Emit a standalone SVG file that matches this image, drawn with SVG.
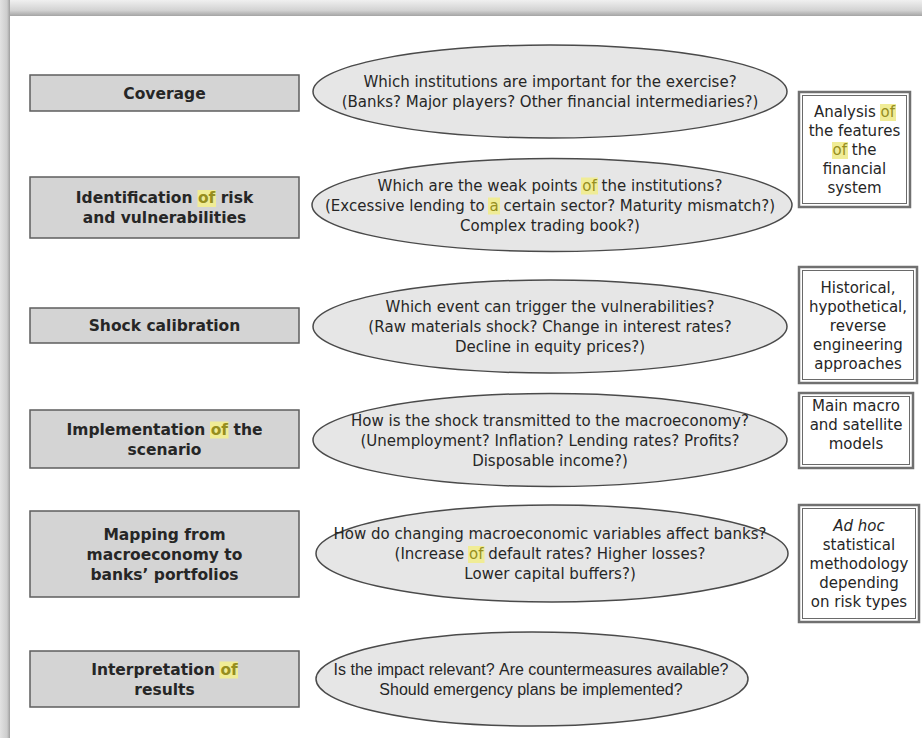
<svg xmlns="http://www.w3.org/2000/svg" width="922" height="738" viewBox="0 0 922 738">
<defs>
<linearGradient id="gt" x1="0" y1="0" x2="0" y2="1">
<stop offset="0" stop-color="#f0f0f0"/><stop offset="0.65" stop-color="#d2d2d2"/><stop offset="1" stop-color="#a4a4a4"/>
</linearGradient>
<linearGradient id="gl" x1="0" y1="0" x2="1" y2="0">
<stop offset="0" stop-color="#e2e2e2"/><stop offset="0.7" stop-color="#cdcdcd"/><stop offset="1" stop-color="#9e9e9e"/>
</linearGradient>
</defs>
<style>
text{font-family:"DejaVu Sans","Liberation Sans",sans-serif;font-kerning:none;fill:#262626}
.lb{fill:#d4d4d4;stroke:#5e5e5e;stroke-width:1.5}
.lt{font-size:15.5px;font-weight:bold;text-anchor:middle}
.el{fill:#e6e6e6;stroke:#4a4a4a;stroke-width:1.5}
.et{font-size:15px;text-anchor:middle}
.en{font-family:"Liberation Sans",Arial,sans-serif;font-size:16px;text-anchor:middle}
.rbo{fill:#fff;stroke:#707070;stroke-width:2.5}
.rbi{fill:none;stroke:#6a6a6a;stroke-width:1}
.rt{font-size:15px;text-anchor:middle}
.hl{fill:#f0ec96}
.hw{fill:#968e1e}
</style>
<rect width="922" height="738" fill="#ffffff"/>
<rect x="0" y="0" width="922" height="16" fill="url(#gt)"/>
<rect x="0" y="0" width="10" height="738" fill="url(#gl)"/>

<g id="coverage">
<rect class="lb" x="30" y="75" width="269" height="36"/>
<text class="lt" x="164.5" y="98.5">Coverage</text>
</g>
<g id="identification">
<rect class="lb" x="30" y="177" width="269" height="61"/>
<rect class="hl" x="197.5" y="190" width="18.5" height="17"/>
<text class="lt" x="164.5" y="203">Identification <tspan class="hw">of</tspan> risk</text>
<text class="lt" x="164.5" y="223">and vulnerabilities</text>
</g>
<g id="shock">
<rect class="lb" x="30" y="308" width="269" height="35"/>
<text class="lt" x="164.5" y="331">Shock calibration</text>
</g>
<g id="implementation">
<rect class="lb" x="30" y="410" width="269" height="58"/>
<rect class="hl" x="210" y="421.5" width="18.5" height="17"/>
<text class="lt" x="164.5" y="434.5">Implementation <tspan class="hw">of</tspan> the</text>
<text class="lt" x="164.5" y="454.5">scenario</text>
</g>
<g id="mapping">
<rect class="lb" x="30" y="511" width="269" height="86"/>
<text class="lt" x="164.5" y="539.5">Mapping from</text>
<text class="lt" x="164.5" y="559.5">macroeconomy to</text>
<text class="lt" x="164.5" y="579.5">banks’ portfolios</text>
</g>
<g id="interpretation">
<rect class="lb" x="30" y="651" width="269" height="56"/>
<rect class="hl" x="219.5" y="661.5" width="18.5" height="17"/>
<text class="lt" x="164.5" y="674.5">Interpretation <tspan class="hw">of</tspan></text>
<text class="lt" x="164.5" y="694.5">results</text>
</g>

<g id="q-coverage">
<ellipse class="el" cx="550" cy="91.5" rx="237" ry="46.5"/>
<text class="et" x="550" y="87">Which institutions are important for the exercise?</text>
<text class="et" x="550" y="107">(Banks? Major players? Other financial intermediaries?)</text>
</g>
<g id="q-identification">
<ellipse class="el" cx="552" cy="205" rx="240" ry="46.5"/>
<rect class="hl" x="581" y="177.5" width="17" height="17"/>
<rect class="hl" x="488" y="197.5" width="12" height="17"/>
<text class="et" x="550" y="190.5">Which are the weak points <tspan class="hw">of</tspan> the institutions?</text>
<text class="et" x="550" y="210.5">(Excessive lending to <tspan class="hw">a</tspan> certain sector? Maturity mismatch?)</text>
<text class="et" x="550" y="230.5">Complex trading book?)</text>
</g>
<g id="q-shock">
<ellipse class="el" cx="550" cy="326.5" rx="237" ry="46.5"/>
<text class="et" x="550" y="312">Which event can trigger the vulnerabilities?</text>
<text class="et" x="550" y="332">(Raw materials shock? Change in interest rates?</text>
<text class="et" x="550" y="352">Decline in equity prices?)</text>
</g>
<g id="q-implementation">
<ellipse class="el" cx="550" cy="440" rx="237" ry="46.5"/>
<text class="et" x="550" y="425.5">How is the shock transmitted to the macroeconomy?</text>
<text class="et" x="550" y="445.5">(Unemployment? Inflation? Lending rates? Profits?</text>
<text class="et" x="550" y="465.5">Disposable income?)</text>
</g>
<g id="q-mapping">
<ellipse class="el" cx="552" cy="553.5" rx="236" ry="48.5"/>
<rect class="hl" x="468" y="546" width="16.5" height="17"/>
<text class="et" x="550" y="539">How do changing macroeconomic variables affect banks?</text>
<text class="et" x="550" y="559">(Increase <tspan class="hw">of</tspan> default rates? Higher losses?</text>
<text class="et" x="550" y="579">Lower capital buffers?)</text>
</g>
<g id="q-interpretation">
<ellipse class="el" cx="532" cy="679" rx="216" ry="47"/>
<text class="en" x="531" y="674.5">Is the impact relevant? Are countermeasures available?</text>
<text class="en" x="531" y="694.5">Should emergency plans be implemented?</text>
</g>

<g id="note-features">
<rect class="rbo" x="799" y="92" width="111" height="115"/>
<rect class="rbi" x="802.5" y="95.5" width="104" height="108"/>
<rect class="hl" x="880" y="104" width="16" height="17"/>
<rect class="hl" x="832" y="142" width="16" height="17"/>
<text class="rt" x="854.5" y="117">Analysis <tspan class="hw">of</tspan></text>
<text class="rt" x="854.5" y="136">the features</text>
<text class="rt" x="854.5" y="155"><tspan class="hw">of</tspan> the</text>
<text class="rt" x="854.5" y="174">financial</text>
<text class="rt" x="854.5" y="193">system</text>
</g>
<g id="note-approaches">
<rect class="rbo" x="799" y="267" width="118" height="116"/>
<rect class="rbi" x="802.5" y="270.5" width="111" height="109"/>
<text class="rt" x="858" y="292.5">Historical,</text>
<text class="rt" x="858" y="311.5">hypothetical,</text>
<text class="rt" x="858" y="330.5">reverse</text>
<text class="rt" x="858" y="349.5">engineering</text>
<text class="rt" x="858" y="368.5">approaches</text>
</g>
<g id="note-models">
<rect class="rbo" x="799" y="393" width="114" height="75"/>
<rect class="rbi" x="802.5" y="396.5" width="107" height="68"/>
<text class="rt" x="856" y="411">Main macro</text>
<text class="rt" x="856" y="430">and satellite</text>
<text class="rt" x="856" y="449">models</text>
</g>
<g id="note-methodology">
<rect class="rbo" x="799" y="505" width="120" height="117"/>
<rect class="rbi" x="802.5" y="508.5" width="113" height="110"/>
<text class="rt" x="859" y="531" font-style="italic">Ad hoc</text>
<text class="rt" x="859" y="550">statistical</text>
<text class="rt" x="859" y="569">methodology</text>
<text class="rt" x="859" y="588">depending</text>
<text class="rt" x="859" y="607">on risk types</text>
</g>
</svg>
